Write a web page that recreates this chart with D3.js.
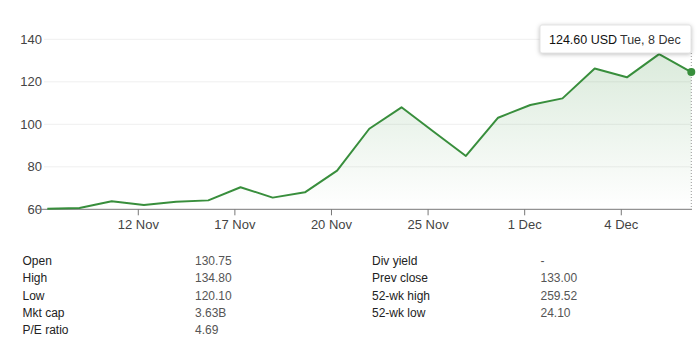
<!DOCTYPE html>
<html>
<head>
<meta charset="utf-8">
<script src="https://cdn.jsdelivr.net/npm/d3@7"></script>
<style>
  html, body { margin: 0; padding: 0; background: #fff; }
  svg { display: block; font-family: Arial, "Liberation Sans", sans-serif; }
  .grid line { stroke: #efefef; }
  .axis text { fill: #444; font-size: 13px; }
</style>
</head>
<body>
<div id="chart"></div>
<script>
// Trading days shown on the one-month chart
var dates = ["9 Nov", "10 Nov", "11 Nov", "12 Nov", "13 Nov", "16 Nov", "17 Nov",
    "18 Nov", "19 Nov", "20 Nov", "23 Nov", "24 Nov", "25 Nov", "27 Nov", "30 Nov",
    "1 Dec", "2 Dec", "3 Dec", "4 Dec", "7 Dec", "8 Dec"];
var prices = [60.3, 60.6, 63.8, 62.0, 63.5, 64.2, 70.4, 65.5, 68.0, 78.2, 97.9,
    108.0, 96.5, 85.1, 103.1, 109.1, 112.2, 126.3, 122.1, 133.0, 124.6];

var tickLabels = ["12 Nov", "17 Nov", "20 Nov", "25 Nov", "1 Dec", "4 Dec"];
var yTicks = [60, 80, 100, 120, 140];

var statsLeft = [["Open", "130.75"], ["High", "134.80"], ["Low", "120.10"],
    ["Mkt cap", "3.63B"], ["P/E ratio", "4.69"]];
var statsRight = [["Div yield", "-"], ["Prev close", "133.00"],
    ["52-wk high", "259.52"], ["52-wk low", "24.10"]];

var tooltipPrice = "124.60 USD";
var tooltipDate = "Tue, 8 Dec";

(function () {
    "use strict";

    var W = 700, H = 351;
    var green = "#388e3c";

    var svg = d3.select("#chart").append("svg")
        .attr("width", W).attr("height", H);

    var x = d3.scaleLinear().domain([0, dates.length - 1]).range([47.3, 691.3]);
    var y = d3.scaleLinear().domain([60, 140]).range([209.3, 39.3]);
    var plotLeft = 44, plotRight = 692;

    // Gradient for the area under the line
    var defs = svg.append("defs");
    var grad = defs.append("linearGradient")
        .attr("id", "areaGrad")
        .attr("gradientUnits", "userSpaceOnUse")
        .attr("x1", 0).attr("x2", 0)
        .attr("y1", y(140)).attr("y2", y(60));
    grad.append("stop").attr("offset", "0%").attr("stop-color", green).attr("stop-opacity", 0.2);
    grad.append("stop").attr("offset", "100%").attr("stop-color", green).attr("stop-opacity", 0);

    // Horizontal grid
    svg.append("g").attr("class", "grid")
        .selectAll("line")
        .data(yTicks.slice(1))
        .enter().append("line")
        .attr("x1", plotLeft).attr("x2", plotRight)
        .attr("y1", function (d) { return y(d); })
        .attr("y2", function (d) { return y(d); });

    // Y labels
    svg.append("g").attr("class", "axis")
        .attr("transform", "translate(42,0)")
        .call(d3.axisLeft(y).tickValues(yTicks).tickSize(0).tickPadding(0))
        .call(function (g) { g.select(".domain").remove(); });

    // Area + line
    var area = d3.area()
        .x(function (d, i) { return x(i); })
        .y0(y(60))
        .y1(function (d) { return y(d); });
    var line = d3.line()
        .x(function (d, i) { return x(i); })
        .y(function (d) { return y(d); });

    svg.append("path").datum(prices)
        .attr("d", area)
        .attr("fill", "url(#areaGrad)");

    // X axis — ticks sit a little before the day's point
    var tickPos = tickLabels.map(function (t) { return dates.indexOf(t) - 0.19; });
    var xAxis = svg.append("g").attr("class", "axis")
        .attr("transform", "translate(0," + y(60) + ")")
        .call(d3.axisBottom(x).tickValues(tickPos).tickSize(6).tickPadding(4)
            .tickFormat(function (d, i) { return tickLabels[i]; }));
    xAxis.select(".domain").remove();
    xAxis.selectAll(".tick line").attr("stroke", "#777");
    svg.append("line")
        .attr("x1", 35).attr("x2", plotRight)
        .attr("y1", y(60)).attr("y2", y(60))
        .attr("stroke", "#777").attr("stroke-width", 1);

    svg.append("path").datum(prices)
        .attr("d", line)
        .attr("fill", "none")
        .attr("stroke", green)
        .attr("stroke-width", 2)
        .attr("stroke-linejoin", "round");

    // Hover marker on the last point
    var last = prices.length - 1;
    svg.append("line")
        .attr("x1", x(last)).attr("x2", x(last))
        .attr("y1", 53).attr("y2", y(60))
        .attr("stroke", "#999").attr("stroke-width", 1)
        .attr("stroke-dasharray", "1,2");
    svg.append("circle")
        .attr("cx", x(last)).attr("cy", y(prices[last]))
        .attr("r", 4).attr("fill", green);

    // Tooltip
    var tip = svg.append("g").attr("transform", "translate(540,25)");
    tip.append("rect")
        .attr("width", 151).attr("height", 28).attr("rx", 2)
        .attr("fill", "#fff")
        .attr("stroke", "#e4e4e4")
        .style("filter", "drop-shadow(0px 1px 2px rgba(0,0,0,0.25))");
    tip.append("text")
        .attr("x", 9).attr("y", 19)
        .attr("font-size", 12.5).attr("fill", "#111")
        .text(tooltipPrice);
    tip.append("text")
        .attr("x", 80).attr("y", 19)
        .attr("font-size", 12.5).attr("fill", "#333")
        .text(tooltipDate);

    // Key stats table
    var rowY = d3.scaleLinear().domain([0, 4]).range([265, 334.3]);
    function statsColumn(rows, lx, vx) {
        var g = svg.append("g").attr("font-size", 12);
        g.selectAll(".lbl").data(rows).enter().append("text")
            .attr("x", lx).attr("y", function (d, i) { return rowY(i); })
            .attr("fill", "#222")
            .text(function (d) { return d[0]; });
        g.selectAll(".val").data(rows).enter().append("text")
            .attr("x", vx).attr("y", function (d, i) { return rowY(i); })
            .attr("fill", "#555")
            .text(function (d) { return d[1]; });
    }
    statsColumn(statsLeft, 22.5, 195);
    statsColumn(statsRight, 372, 540.5);
})();
</script>
</body>
</html>
